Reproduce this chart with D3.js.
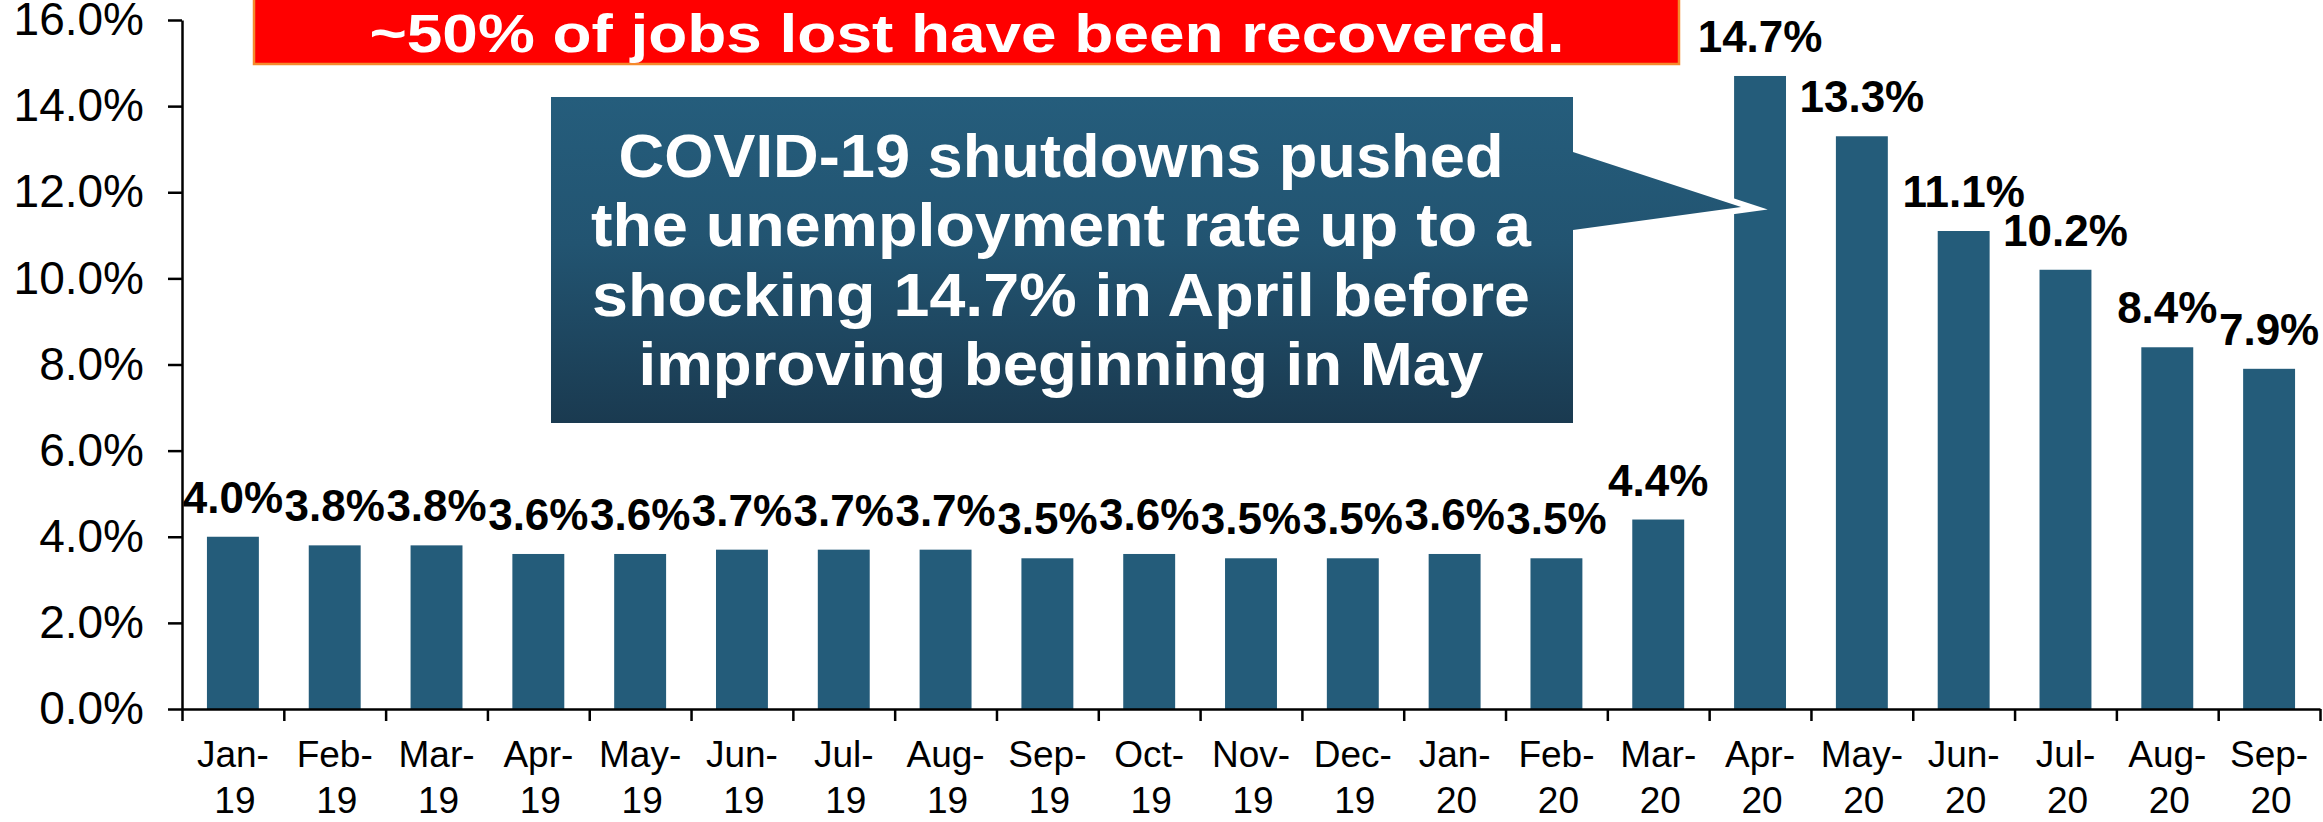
<!DOCTYPE html>
<html>
<head>
<meta charset="utf-8">
<title>Unemployment rate</title>
<script src="https://d3js.org/d3.v7.min.js"></script>
<style>
  body { margin: 0; background: #fff; }
  svg { display: block; font-family: "Liberation Sans", Arial, sans-serif; }
</style>
</head>
<body>
<svg width="2323" height="822"></svg>
<script>
// data
var months = ["Jan-19", "Feb-19", "Mar-19", "Apr-19", "May-19", "Jun-19", "Jul-19",
              "Aug-19", "Sep-19", "Oct-19", "Nov-19", "Dec-19", "Jan-20", "Feb-20",
              "Mar-20", "Apr-20", "May-20", "Jun-20", "Jul-20", "Aug-20", "Sep-20"];
var rates = [4.0, 3.8, 3.8, 3.6, 3.6, 3.7, 3.7, 3.7, 3.5, 3.6, 3.5, 3.5, 3.6, 3.5,
             4.4, 14.7, 13.3, 11.1, 10.2, 8.4, 7.9];
var yTicks = [0, 2, 4, 6, 8, 10, 12, 14, 16];
var bannerText = "~50% of jobs lost have been recovered.";
var calloutLines = ["COVID-19 shutdowns pushed", "the unemployment rate up to a",
                    "shocking 14.7% in April before", "improving beginning in May"];

var barColor = "#245c7a";
var plotLeft = 182, plotRight = 2320, plotTop = 20, plotBottom = 709;

var svg = d3.select("svg");

var data = months.map(function(m, i) { return { month: m, rate: rates[i] }; });

var x = d3.scaleBand()
  .domain(months)
  .range([plotLeft, plotRight])
  .paddingInner(0.49)
  .paddingOuter(0.245);

var y = d3.scaleLinear()
  .domain([0, 16])
  .range([plotBottom, plotTop]);

// gradient for the callout
var defs = svg.append("defs");
var grad = defs.append("linearGradient")
  .attr("id", "calloutGrad")
  .attr("x1", 0).attr("y1", 0).attr("x2", 0).attr("y2", 1);
grad.append("stop").attr("offset", "0%").attr("stop-color", "#255d7c");
grad.append("stop").attr("offset", "45%").attr("stop-color", "#225471");
grad.append("stop").attr("offset", "100%").attr("stop-color", "#1a3a50");

// bars
svg.selectAll(".bar")
  .data(data)
  .enter().append("rect")
  .attr("class", "bar")
  .attr("x", function(d) { return x(d.month); })
  .attr("y", function(d) { return y(d.rate); })
  .attr("width", x.bandwidth())
  .attr("height", function(d) { return y(0) - y(d.rate); })
  .style("fill", barColor);

// y axis
var yAxis = d3.axisLeft(y)
  .tickValues(yTicks)
  .tickSize(14)
  .tickSizeOuter(0)
  .tickPadding(24)
  .tickFormat(function(d) { return d.toFixed(1) + "%"; });

var gy = svg.append("g")
  .attr("transform", "translate(" + plotLeft + ",0)")
  .call(yAxis);
gy.select(".domain").attr("stroke", "#000").attr("stroke-width", 2.5);
gy.selectAll(".tick line").attr("stroke", "#000").attr("stroke-width", 2.5);
gy.selectAll(".tick text")
  .attr("font-size", 46)
  .attr("fill", "#000")
  .attr("font-family", "Liberation Sans, Arial, sans-serif");

// x axis: boundary ticks
var xEdge = d3.scaleLinear().domain([0, months.length]).range([plotLeft, plotRight]);
var gxTicks = svg.append("g")
  .attr("transform", "translate(0," + plotBottom + ")")
  .call(d3.axisBottom(xEdge)
    .tickValues(d3.range(months.length + 1))
    .tickSize(12)
    .tickSizeOuter(0)
    .tickFormat(""));
gxTicks.select(".domain").attr("stroke", "#000").attr("stroke-width", 2.5);
gxTicks.selectAll(".tick line").attr("stroke", "#000").attr("stroke-width", 2.5);

// x axis: labels in two lines
var gx = svg.append("g")
  .attr("transform", "translate(0," + plotBottom + ")")
  .call(d3.axisBottom(x).tickSize(0).tickPadding(0));
gx.select(".domain").remove();
gx.selectAll(".tick text").each(function(d) {
  var parts = d.split("-");
  var t = d3.select(this)
    .text(null)
    .attr("y", 0)
    .attr("dy", null)
    .attr("font-size", 37)
    .attr("fill", "#000")
    .attr("font-family", "Liberation Sans, Arial, sans-serif");
  t.append("tspan").attr("x", 0).attr("y", 58).text(parts[0] + "-");
  t.append("tspan").attr("x", 2).attr("y", 104).text(parts[1]);
});

// banner
svg.append("rect")
  .attr("x", 254).attr("y", -4)
  .attr("width", 1425).attr("height", 68)
  .attr("fill", "#ff0000")
  .attr("stroke", "#f58a2c")
  .attr("stroke-width", 2.5);
svg.append("text")
  .attr("x", 967).attr("y", 52)
  .attr("text-anchor", "middle")
  .attr("font-size", 53)
  .attr("font-weight", "bold")
  .attr("fill", "#fff")
  .attr("textLength", 1195)
  .attr("lengthAdjust", "spacingAndGlyphs")
  .text(bannerText);

// callout box with pointer to April bar
var aprX = x("Apr-20");
var callout = d3.path();
callout.moveTo(551, 97);
callout.lineTo(1573, 97);
callout.lineTo(1573, 152);
callout.lineTo(aprX + 7, 207);
callout.lineTo(1573, 230);
callout.lineTo(1573, 423);
callout.lineTo(551, 423);
callout.closePath();
svg.append("path")
  .attr("d", callout.toString())
  .attr("fill", "url(#calloutGrad)")
  .attr("stroke", "#fff")
  .attr("stroke-width", 12)
  .attr("stroke-miterlimit", 10)
  .attr("paint-order", "stroke");

var lineWidths = [885, 940, 938, 845];
svg.append("g").selectAll("text")
  .data(calloutLines)
  .enter().append("text")
  .attr("x", 1061)
  .attr("y", function(d, i) { return 177 + i * 69.3; })
  .attr("text-anchor", "middle")
  .attr("font-size", 61)
  .attr("font-weight", "bold")
  .attr("fill", "#fff")
  .attr("textLength", function(d, i) { return lineWidths[i]; })
  .attr("lengthAdjust", "spacingAndGlyphs")
  .text(function(d) { return d; });

// value labels
svg.selectAll(".label")
  .data(data)
  .enter().append("text")
  .attr("class", "label")
  .attr("x", function(d) { return x(d.month) + x.bandwidth() / 2; })
  .attr("y", function(d) { return y(d.rate) - 24; })
  .attr("text-anchor", "middle")
  .attr("font-size", 44)
  .attr("font-weight", "bold")
  .attr("fill", "#000")
  .text(function(d) { return d.rate.toFixed(1) + "%"; });
</script>
</body>
</html>
